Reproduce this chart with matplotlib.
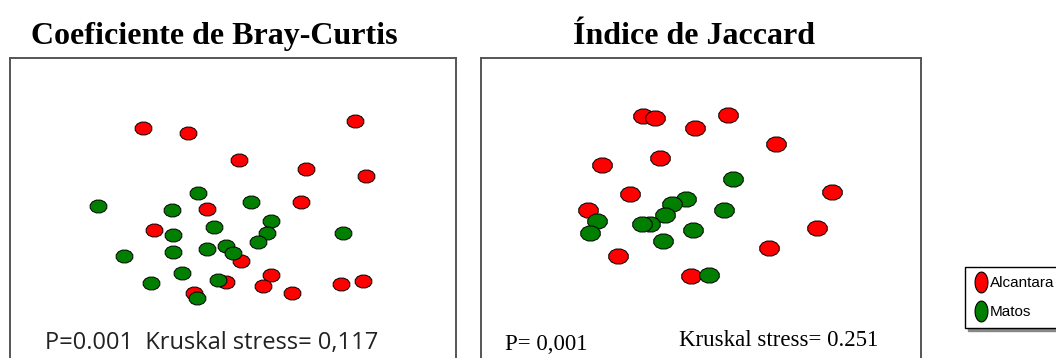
import numpy as np
import matplotlib
matplotlib.use("Agg")
import matplotlib.pyplot as plt
from matplotlib.path import Path
from matplotlib.lines import Line2D

# NMDS scores, Bray-Curtis
bc_alcantara_x = [-0.90, -0.45, 1.22, 0.06, 0.73, 1.33, 0.68, -0.26, -0.79, 0.08, 0.38, -0.07, 0.30, 0.59, 1.08, 1.30, -0.39]
bc_alcantara_y = [0.82, 0.77, 0.89, 0.50, 0.41, 0.34, 0.08, 0.01, -0.20, -0.51, -0.65, -0.72, -0.76, -0.83, -0.74, -0.71, -0.83]
bc_matos_x = [-1.35, -0.35, -0.61, 0.18, -0.19, 0.38, 0.34, -0.60, 0.25, 1.10, -1.09, -0.60, -0.26, -0.07, 0.00, -0.51, -0.82, -0.15, -0.36]
bc_matos_y = [0.04, 0.17, 0.00, 0.08, -0.17, -0.11, -0.23, -0.25, -0.32, -0.23, -0.46, -0.42, -0.39, -0.36, -0.43, -0.63, -0.73, -0.70, -0.88]

# NMDS scores, Jaccard
jc_alcantara_x = [-0.58, -0.46, 0.27, -0.06, 0.75, -0.41, -0.99, -0.71, 1.31, -1.13, 1.16, 0.68, -0.83, -0.10]
jc_alcantara_y = [0.93, 0.91, 0.94, 0.81, 0.65, 0.51, 0.44, 0.15, 0.17, -0.01, -0.18, -0.38, -0.46, -0.66]
jc_matos_x = [0.32, -0.15, -0.29, 0.23, -0.36, -1.04, -0.51, -0.59, -0.08, -1.11, -0.38, 0.08]
jc_matos_y = [0.30, 0.10, 0.05, -0.01, -0.06, -0.11, -0.14, -0.14, -0.20, -0.23, -0.31, -0.65]

groups = ["Alcantara", "Matos"]
colors = ["#ff0000", "#007f00"]

# flattened polygon marker (almost round)
ang = np.deg2rad(15 + 30 * np.arange(12))
verts = np.column_stack([1.3 * np.cos(ang), np.sin(ang)])
octo = Path(np.vstack([verts, verts[:1]]), closed=True)

# tall ellipse marker for the legend
t = np.linspace(0, 2 * np.pi, 40)
ellipse = Path(np.column_stack([0.62 * np.cos(t), np.sin(t)]), closed=True)

fig = plt.figure(figsize=(10.56, 3.58), dpi=100)

ax1 = fig.add_axes([0.0095, -0.0335, 0.4223, 0.8715])
ax2 = fig.add_axes([0.4555, -0.0335, 0.4167, 0.8715])

for ax, data, ms in [
    (ax1, [(bc_alcantara_x, bc_alcantara_y), (bc_matos_x, bc_matos_y)], 12.0),
    (ax2, [(jc_alcantara_x, jc_alcantara_y), (jc_matos_x, jc_matos_y)], 14.0),
]:
    for (x, y), c in zip(data, colors):
        ax.plot(x, y, linestyle="none", marker=octo, markersize=ms,
                markerfacecolor=c, markeredgecolor="black", markeredgewidth=0.7)
    ax.set_xticks([])
    ax.set_yticks([])
    for s in ax.spines.values():
        s.set_color("#555555")
        s.set_linewidth(1.4)

ax1.set_xlim(-2.23, 2.23)
ax1.set_ylim(-1.60, 1.52)
ax2.set_xlim(-2.20, 2.20)
ax2.set_ylim(-1.60, 1.51)

fig.text(0.203, 0.898, "Coeficiente de Bray-Curtis", family="Liberation Serif",
         fontweight="bold", fontsize=23, ha="center", va="center")
fig.text(0.657, 0.898, "Índice de Jaccard", family="Liberation Serif",
         fontweight="bold", fontsize=23, ha="center", va="center")

ax1.text(0.078, 0.088, "P=0.001  Kruskal stress= 0,117", transform=ax1.transAxes,
         family="Open Sans", fontsize=17, color="#222222", ha="left", va="center")
ax2.text(0.055, 0.083, "P= 0,001", transform=ax2.transAxes,
         family="Liberation Serif", fontsize=16.5, ha="left", va="center")
ax2.text(0.45, 0.095, "Kruskal stress= 0.251", transform=ax2.transAxes,
         family="Liberation Serif", fontsize=16.5, ha="left", va="center")

handles = [Line2D([], [], linestyle="none", marker=ellipse, markersize=15,
                  markerfacecolor=c, markeredgecolor="black", markeredgewidth=0.8)
           for c in colors]
leg = fig.legend(handles, groups, loc="upper left", bbox_to_anchor=(0.914, 0.255),
                 frameon=True, fancybox=False, shadow={"color": "#888888", "alpha": 1},
                 edgecolor="black", borderpad=0.6, handletextpad=0.1,
                 handlelength=0.9, labelspacing=1.0, borderaxespad=0,
                 prop={"family": "Liberation Sans", "size": 11})
leg.get_frame().set_linewidth(1.0)

fig.savefig("out.png", dpi=100)
